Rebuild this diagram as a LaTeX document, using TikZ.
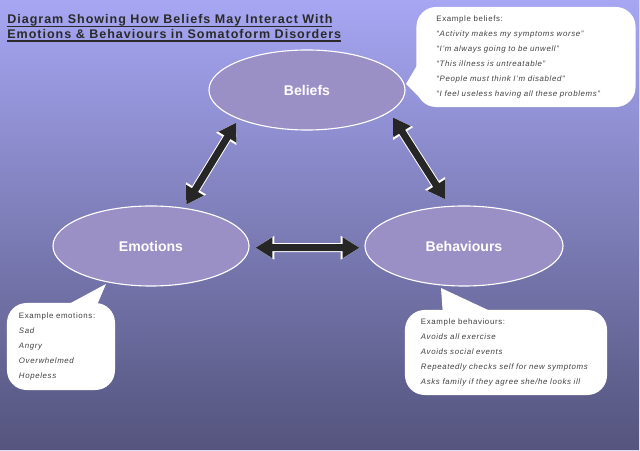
\documentclass[tikz,border=0pt]{standalone}
\usepackage{fontspec}
\setmainfont{Liberation Sans}
\newfontfamily\spacedfont[LetterSpace=8]{Liberation Sans}
\usetikzlibrary{shapes.geometric,arrows.meta,calc}

\definecolor{bgtop}{HTML}{A6A6F3}
\definecolor{bgmid}{HTML}{8A8AD0}
\definecolor{bgbot}{HTML}{54547D}
\definecolor{ovalfill}{HTML}{9B90C6}
\definecolor{arrowgray}{HTML}{262626}
\definecolor{notegray}{HTML}{404040}
\definecolor{titlegray}{HTML}{2A2A2A}

\newcommand\headline[1]{\setbox0\hbox{#1}\rlap{\rule[-2.5pt]{\wd0}{0.9pt}}\box0}

\tikzset{
  oval/.style={ellipse, draw=white, line width=0.8pt, fill=ovalfill, minimum width=4.9cm, minimum height=2cm,
    inner sep=0pt, text=white, font=\bfseries\fontsize{10}{12}\selectfont},
  note/.style={fill=white, rounded corners=14pt, inner ysep=0pt, align=left, text=notegray,
    font=\spacedfont\fontsize{5.6}{10.6}\selectfont},
  notetip/.style={fill=white},
  twoway/.style={draw=arrowgray, line width=5pt,
    {Triangle[length=12pt,width=14pt]}-{Triangle[length=12pt,width=14pt]},
    preaction={draw=white, line width=6.4pt,
      {Triangle[length=13.5pt,width=16pt]}-{Triangle[length=13.5pt,width=16pt]}}},
  titletext/.style={align=left, inner sep=0pt, text=titlegray,
    font=\spacedfont\bfseries\fontsize{8.9}{10.5}\selectfont}
}

\begin{document}
\begin{tikzpicture}[x=0.025cm,y=-0.025cm]
            \useasboundingbox (0,0) rectangle (640,451);
            \shade[top color=bgtop, middle color=bgmid, bottom color=bgbot] (0,0) rectangle (640,451);
            \draw[white!70!bgmid, line width=2pt] (640,0) -- (640,451) -- (0,451);

            \node[titletext, anchor=north west] (title) at (7,14)
                {\headline{Diagram Showing How Beliefs May Interact With}\\
                 \headline{Emotions \& Behaviours in Somatoform Disorders}};

            \node[note, minimum width=5.475cm, minimum height=2.5cm, inner xsep=0.5cm, text width=4.475cm] (beliefnote) at (526,57)
                {Example beliefs:\\
                 \itshape “Activity makes my symptoms worse”\\
                 \itshape “I’m always going to be unwell”\\
                 \itshape “This illness is untreatable”\\
                 \itshape “People must think I’m disabled”\\
                 \itshape “I feel useless having all these problems”};
            \node[note, minimum width=2.7cm, minimum height=2.175cm, inner xsep=0.3cm, text width=2.1cm] (emotionnote) at (61,346.5)
                {Example emotions:\\
                 \itshape Sad\\
                 \itshape Angry\\
                 \itshape Overwhelmed\\
                 \itshape Hopeless};
            \node[note, minimum width=5.05cm, minimum height=2.125cm, inner xsep=0.4cm, text width=4.25cm] (behaviournote) at (506,352.5)
                {Example behaviours:\\
                 \itshape Avoids all exercise\\
                 \itshape Avoids social events\\
                 \itshape Repeatedly checks self for new symptoms\\
                 \itshape Asks family if they agree she/he looks ill};

            \coordinate (belieftip) at (406,84);
            \coordinate (emotiontip) at (106,284);
            \coordinate (behaviourtip) at (441,288);
            \fill[notetip] ($(beliefnote.west)+(7,-2)$) -- (belieftip) -- ($(beliefnote.west)+(9,46)$) -- cycle;
            \fill[notetip] ($(emotionnote.north)+(1,5)$) -- (emotiontip) -- ($(emotionnote.north)+(34,7)$) -- cycle;
            \fill[notetip] ($(behaviournote.north)+(-63,6)$) -- (behaviourtip) -- ($(behaviournote.north)+(-10,4)$) -- cycle;

            \node[oval] (beliefs) at (307,90) {Beliefs};
            \node[oval] (emotions) at (151,246) {Emotions};
            \node[oval, minimum width=4.95cm] (behaviours) at (464,246) {Behaviours};

            \draw[twoway, shorten <=3pt, shorten >=2.7pt] (beliefs.203.8) -- (emotions.49.8);
            \draw[twoway, shorten <=4.5pt, shorten >=5.5pt] (beliefs.345.3) -- (behaviours.110.7);
            \draw[twoway, shorten <=4.25pt, shorten >=3.5pt] (emotions.359) -- (behaviours.181);
\end{tikzpicture}
\end{document}
